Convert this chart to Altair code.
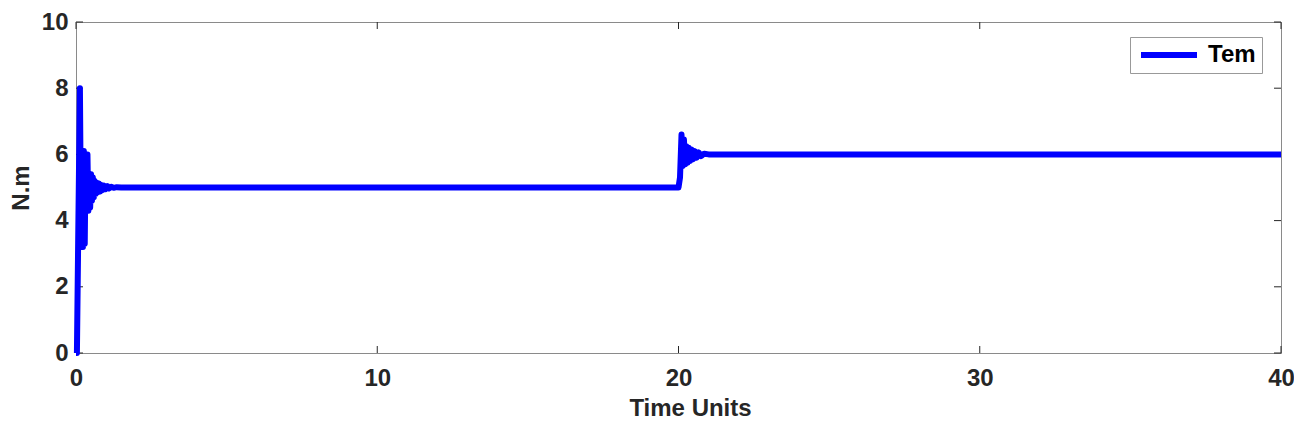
import altair as alt
import pandas as pd

# Torque signal (Tem)
t_start = [0.00, 0.03, 0.13, 0.17, 0.20, 0.23, 0.26, 0.29, 0.32, 0.35, 0.38, 0.41,
           0.44, 0.47, 0.50, 0.53, 0.56, 0.59, 0.62, 0.65, 0.68, 0.72, 0.76, 0.80,
           0.84, 0.88, 0.93, 0.98, 1.04, 1.10, 1.17, 1.25, 1.35, 1.50]
v_start = [0.0, 0.0, 8.0, 3.2, 6.1, 3.2, 6.1, 3.3, 6.0, 4.3, 6.0, 4.3,
           5.4, 4.4, 5.4, 4.6, 5.3, 4.7, 5.2, 4.8, 5.15, 4.85, 5.12, 4.88,
           5.08, 4.92, 5.06, 4.95, 5.04, 4.97, 5.02, 4.99, 5.01, 5.0]
t_step = [20.00, 20.05, 20.10, 20.14, 20.18, 20.22, 20.26, 20.30, 20.34, 20.38,
          20.43, 20.48, 20.54, 20.60, 20.67, 20.75, 20.85, 21.0, 40.0]
v_step = [5.0, 5.3, 6.6, 5.65, 6.45, 5.7, 6.25, 5.75, 6.2, 5.8,
          6.15, 5.85, 6.1, 5.9, 6.06, 5.95, 6.02, 6.0, 6.0]

x_ticks = [0, 10, 20, 30, 40]
y_ticks = [0, 2, 4, 6, 8, 10]
series_name = "Tem"

W, H = 1205, 331
FONT = "Liberation Sans"
AX = "#262626"
FRAME = "#8a8a8a"
TICK_LEN = 7

df = pd.DataFrame({
    "t": t_start + t_step,
    "v": v_start + v_step,
    "series": [series_name] * (len(t_start) + len(t_step)),
})
df["order"] = range(len(df))

xscale = alt.Scale(domain=[0, 40], nice=False, zero=False)
yscale = alt.Scale(domain=[0, 10], nice=False)

line = alt.Chart(df).mark_line(strokeWidth=6, strokeJoin="round", clip=False).encode(
    x=alt.X("t:Q", scale=xscale,
            axis=alt.Axis(values=x_ticks, title="Time Units", format="d",
                          labelFlush=False, titleX=614)),
    y=alt.Y("v:Q", scale=yscale,
            axis=alt.Axis(values=y_ticks, title="N.m", format="d", labelFlush=False)),
    order="order:Q",
    color=alt.Color("series:N", scale=alt.Scale(range=["#0000ff"]),
                    legend=alt.Legend(title=None, orient="none",
                                      legendX=1054, legendY=15)),
)

xt = pd.DataFrame({"t": x_ticks})
yt = pd.DataFrame({"v": y_ticks})

xb = alt.Chart(xt).mark_rule(color=AX, strokeWidth=1).encode(
    x=alt.X("t:Q", scale=xscale), y=alt.value(H), y2=alt.value(H - TICK_LEN))
xtop = alt.Chart(xt).mark_rule(color=AX, strokeWidth=1).encode(
    x=alt.X("t:Q", scale=xscale), y=alt.value(0), y2=alt.value(TICK_LEN))
yl = alt.Chart(yt).mark_rule(color=AX, strokeWidth=1).encode(
    y=alt.Y("v:Q", scale=yscale), x=alt.value(0), x2=alt.value(TICK_LEN))
yr = alt.Chart(yt).mark_rule(color=AX, strokeWidth=1).encode(
    y=alt.Y("v:Q", scale=yscale), x=alt.value(W), x2=alt.value(W - TICK_LEN))

chart = alt.layer(xb, xtop, yl, yr, line).properties(
    width=W, height=H,
    autosize=alt.AutoSizeParams(type="none"),
    padding={"left": 68, "top": 14, "right": 13, "bottom": 66},
).configure_view(
    stroke=FRAME, strokeWidth=1
).configure_axis(
    grid=False, ticks=False, domainColor=FRAME, domainWidth=1,
    labelFont=FONT, labelFontSize=24, labelFontWeight="bold", labelColor=AX,
    titleFont=FONT, titleFontSize=24, titleFontWeight="bold", titleColor=AX,
).configure_axisX(
    labelPadding=13, titlePadding=6,
).configure_axisY(
    labelPadding=8, titlePadding=8,
).configure_legend(
    labelFont=FONT, labelFontSize=24, labelFontWeight="bold", labelColor="#000000",
    symbolType="M-1,0H7", symbolStrokeWidth=6, symbolSize=196,
    symbolFillColor="#0000ff", symbolStrokeColor="#0000ff",
    strokeColor="#999999", fillColor="white", padding=6, labelOffset=48,
    cornerRadius=0,
)

chart.save("out.html", embed_options={"renderer": "svg", "actions": False})
